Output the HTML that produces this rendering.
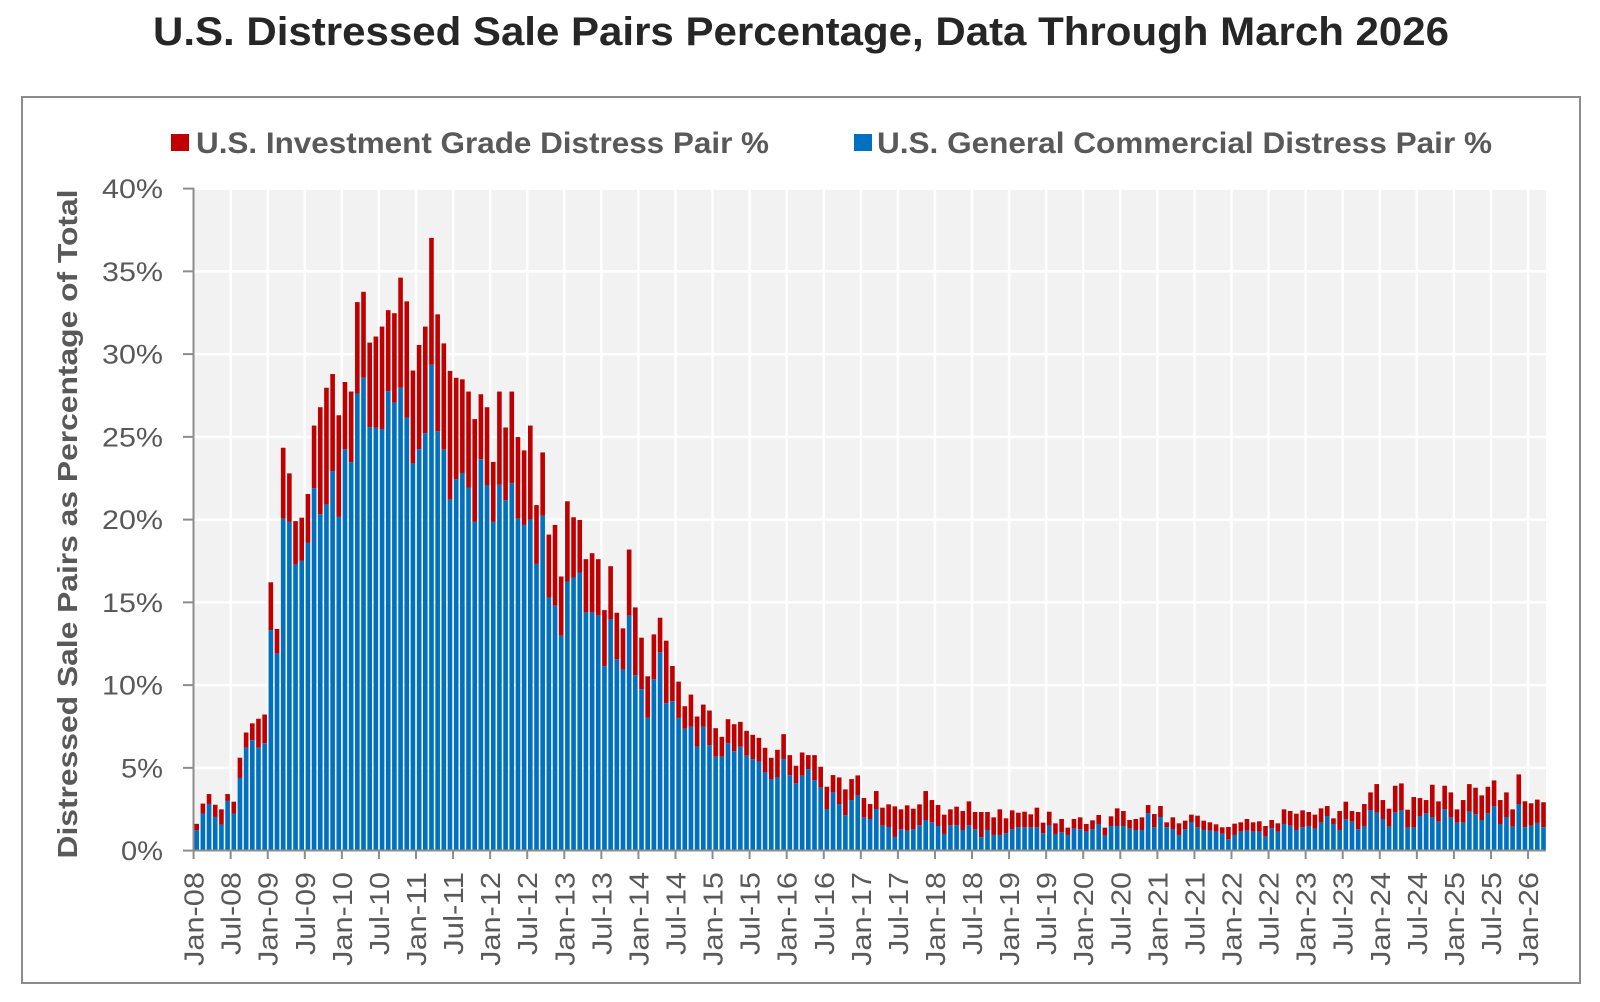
<!DOCTYPE html>
<html><head><meta charset="utf-8"><style>
html,body{margin:0;padding:0;background:#fff;}
svg{display:block;font-family:"Liberation Sans",Arial,sans-serif;}
</style></head><body>
<svg id="c" width="1600" height="1002" viewBox="0 0 1600 1002" xmlns="http://www.w3.org/2000/svg">
<rect x="0" y="0" width="1600" height="1002" fill="#fff"/>
<text x="153" y="45" font-size="40" font-weight="bold" fill="#262626" textLength="1296" lengthAdjust="spacingAndGlyphs">U.S. Distressed Sale Pairs Percentage, Data Through March 2026</text>
<rect x="22" y="97" width="1558" height="886" fill="#fff" stroke="#8c8c8c" stroke-width="2"/>
<rect x="171" y="134" width="18" height="17" fill="#C00000"/>
<text x="196" y="153" font-size="30" font-weight="bold" fill="#595959" textLength="573" lengthAdjust="spacingAndGlyphs">U.S. Investment Grade Distress Pair %</text>
<rect x="854" y="134" width="18" height="17" fill="#0070C0"/>
<text x="877" y="153" font-size="30" font-weight="bold" fill="#595959" textLength="615" lengthAdjust="spacingAndGlyphs">U.S. General Commercial Distress Pair %</text>
<text transform="translate(77,524) rotate(-90)" text-anchor="middle" font-size="28" font-weight="bold" fill="#595959" textLength="669" lengthAdjust="spacingAndGlyphs">Distressed  Sale Pairs as Percentage of Total</text>
<rect x="194" y="188" width="1352" height="663" fill="#F2F2F2"/>
<g id="grid"></g>
<g id="bars"></g>
<g id="axes"></g>
</svg>
<script>
(function(){
var NS="http://www.w3.org/2000/svg";
function el(p,n,a,t){var e=document.createElementNS(NS,n);for(var k in a)e.setAttribute(k,a[k]);if(t!==undefined)e.textContent=t;p.appendChild(e);return e;}
var Y0=850.6, PX=16.55;
function yp(v){return Y0-v*PX;}
var X0=196.7, DX=6.178;
var grid=document.getElementById('grid'),bars=document.getElementById('bars'),axes=document.getElementById('axes');
for(var p=0;p<=40;p+=5){
  var y=yp(p);
  if(p>0) el(grid,'line',{x1:194,x2:1546,y1:y,y2:y,stroke:'#fff','stroke-width':2.5});
  el(axes,'line',{x1:183,x2:194,y1:y,y2:y,stroke:'#8c8c8c','stroke-width':2});
  el(axes,'text',{x:163,y:y+9.5,'text-anchor':'end','font-size':27,fill:'#595959',textLength:(p>=10?61:42),lengthAdjust:'spacingAndGlyphs'},p+'%');
}
for(var i=0;i<=216;i+=6){
  var x=X0+i*DX-3.1;
  if(i>0) el(grid,'line',{x1:x,x2:x,y1:188,y2:851,stroke:'#fff','stroke-width':2.5});
  el(axes,'line',{x1:x,x2:x,y1:850,y2:859,stroke:'#8c8c8c','stroke-width':2});
  var yr=8+Math.floor(i/12), jan=(i%12==0);
  var lab=(jan?'Jan-':'Jul-')+(yr<10?'0':'')+yr;
  el(axes,'text',{transform:'translate('+(x+10)+',872) rotate(-90)','text-anchor':'end','font-size':28,fill:'#595959',textLength:(jan?94:83),lengthAdjust:'spacingAndGlyphs'},lab);
}
el(axes,'line',{x1:193.5,x2:193.5,y1:188,y2:851,stroke:'#8c8c8c','stroke-width':2});
el(axes,'line',{x1:193,x2:1546,y1:850.5,y2:850.5,stroke:'#8c8c8c','stroke-width':2});
var d=[];
function add(arr,f){for(var k=0;k<arr.length;k+=2)d.push([f(arr[k]),f(arr[k+1])]);}
var z1=[1495,1512,1442,1468,1417,1443,1445,1477,1457,1497,1417,1435,1437,1468,1322,1375,1256,1296,1232,1276,1220,1296,1209,1284,
863,988,985,1050,511,697,578,705,703,817,694,807,632,760,453,617,405,685,354,660,318,572,426,692,
339,515,364,549,130,369,103,328,236,457,220,459,194,463,151,363,159,393,66,354,128,432,309,552,
242,515,194,473,-38,294,162,468,238,516,310,647,328,593,332,577,364,615,436,705,371,541,405,610,
548,705,364,608,458,648,364,604,483,697,518,713,453,699,661,815];
add(z1,function(z){return (1565-z)/43.3;});
var z2=[95,285,342,531,313,556,468,646,242,483,290,471,298,456,416,576,398,576,416,586,569,738,437,597,577,717,624,748,387,586,561,765,652,807,768,893,642,777,592,696,661,849,737,843,784,893,858,926,823,920,889,980,853,920,871,975,924,1010,950,1010,897,969,912,993,905,980,932,1007,944,1017,953,1024,983,1057,1013,1078,989,1072,942,1017,1005,1065,1037,1089,997,1067,1005,1047,1005,1080,1040,1103,1100,1167,1065,1117,1072,1152,1108,1186,1077,1140,1066,1126,1134,1193,1152,1197,1113,1167,1163,1217,1153,1221,1159,1251];
add(z2,function(z){return (1292-z)/49.75;});
var z3=[208,268,196,272,206,268,193,256,153,240,180,247,195,258,224,282,208,256,200,256,213,270,184,256,216,268,216,292,216,270,232,285,208,285,235,280,211,268,218,262,215,262,223,262,203,262,248,280,215,257,250,282,237,277,263,285,237,266,232,268,252,275,241,268,225,252,263,287,
229,258,205,258,213,258,240,266,237,270,232,270,195,220,222,262,198,231,247,262,232,267,250,285,242,268,224,246,227,262,242,270,247,272,253,275,262,281,261,298,251,285,247,275,237,272,247,275,244,275,258,290,240,265,250,275,208,252,213,257,221,270,211,262,216,258,224,266,
205,248,198,228,235,252,213,270,185,238,213,245,216,268,192,258,157,210,132,218,180,237,206,260,137,218,130,212,209,263,171,263,174,228,180,220,134,231,184,245,137,208,157,233,208,248,180,248,132,215,143,223,166,240,140,220,121,198,180,252,157,231,208,260,103,192];
add(z3,function(z){return (332-z)/49.75;});
var z6=[302,380,308,375,297,367,305,380];
add(z6,function(z){return (450-z)/49.65;});
var W=4.6;
for(var i=0;i<d.length;i++){
  var t=Math.max(0,d[i][0]),b=Math.max(0.3,Math.min(d[i][1],t));
  var cx=X0+i*DX;
  el(bars,'rect',{x:cx-W/2,y:yp(t),width:W,height:(t-b)*PX,fill:'#C00000'});
  el(bars,'rect',{x:cx-W/2,y:yp(b),width:W,height:b*PX,fill:'#0070C0'});
}
})();
</script>
</body></html>
